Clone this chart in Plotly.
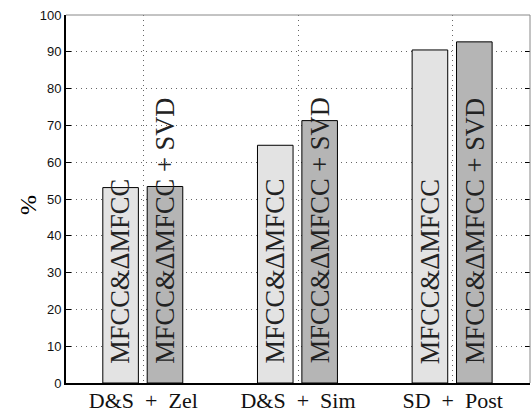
import plotly.graph_objects as go

categories = ["D&S\u2002+\u2002Zel", "D&S\u2002+\u2002Sim", "SD\u2002+\u2002Post"]
cat_pos = [1, 2, 3]
mfcc_values = [53.1, 64.6, 90.5]
svd_values = [53.4, 71.3, 92.7]
mfcc_label = "MFCC&ΔMFCC"
svd_label = "MFCC&ΔMFCC + SVD"
y_ticks = list(range(0, 101, 10))

BAR_W = 0.23
OFF_L = -0.262
OFF_R = 0.025
SERIF = "Liberation Serif, Times New Roman, serif"
SANS = "Liberation Sans, Arial, sans-serif"

fig = go.Figure()
fig.add_trace(go.Bar(x=cat_pos, y=mfcc_values, width=BAR_W, offset=OFF_L,
                     marker=dict(color="#e3e3e3", line=dict(color="#000000", width=1)),
                     showlegend=False, hoverinfo="skip"))
fig.add_trace(go.Bar(x=cat_pos, y=svd_values, width=BAR_W, offset=OFF_R,
                     marker=dict(color="#b5b5b5", line=dict(color="#000000", width=1)),
                     showlegend=False, hoverinfo="skip"))
# right-side ticks (MATLAB box)
fig.add_trace(go.Scatter(x=[None], y=[None], yaxis="y2", showlegend=False))

annotations = []
for xp in cat_pos:
    annotations.append(dict(x=xp + OFF_L + BAR_W / 2, y=4.7, xref="x", yref="y",
                            text=mfcc_label, textangle=-90, showarrow=False,
                            xanchor="center", yanchor="bottom",
                            font=dict(family=SERIF, size=26.5, color="#222")))
    annotations.append(dict(x=xp + OFF_R + BAR_W / 2, y=4.7, xref="x", yref="y",
                            text=svd_label, textangle=-90, showarrow=False,
                            xanchor="center", yanchor="bottom",
                            font=dict(family=SERIF, size=26.5, color="#222")))
annotations.append(dict(xref="x domain", yref="y domain",
                        x=(28 - 66) / 464, y=(383 - 205) / 368,
                        text="%", textangle=-90, showarrow=False,
                        xanchor="center", yanchor="middle",
                        font=dict(family=SERIF, size=24, color="#000")))

shapes = [
    dict(type="line", xref="x domain", yref="y domain", x0=0, x1=1, y0=1, y1=1,
         line=dict(color="#888", width=1)),
    dict(type="line", xref="x domain", yref="y domain", x0=1, x1=1, y0=0, y1=1,
         line=dict(color="#888", width=1)),
]

fig.update_layout(
    width=531, height=412,
    margin=dict(l=66, r=1, t=15, b=29),
    paper_bgcolor="white", plot_bgcolor="white",
    barmode="overlay",
    annotations=annotations, shapes=shapes,
    xaxis=dict(range=[0.5, 3.5], tickvals=cat_pos, ticktext=categories,
               showline=True, linecolor="#000", linewidth=2,
               showgrid=True, gridcolor="#666", griddash="1px,4px", gridwidth=1,
               ticks="", zeroline=False, automargin=False,
               ticklabelstandoff=-3,
               tickfont=dict(family=SERIF, size=22, color="#111")),
    yaxis=dict(range=[0, 100], tickvals=y_ticks,
               showline=True, linecolor="#000", linewidth=2,
               showgrid=True, gridcolor="#666", griddash="1px,4px", gridwidth=1,
               ticks="inside", ticklen=5, tickcolor="#000", zeroline=False,
               automargin=False,
               tickfont=dict(family=SANS, size=13, color="#111")),
    yaxis2=dict(range=[0, 100], tickvals=y_ticks, overlaying="y", side="right",
                showline=False, showgrid=False, ticks="inside", ticklen=5,
                tickcolor="#000", showticklabels=False, zeroline=False,
                automargin=False),
)

fig.write_html("out.html", config={"displayModeBar": False},
               post_script="document.body.style.margin='0';document.body.style.overflow='hidden';")
